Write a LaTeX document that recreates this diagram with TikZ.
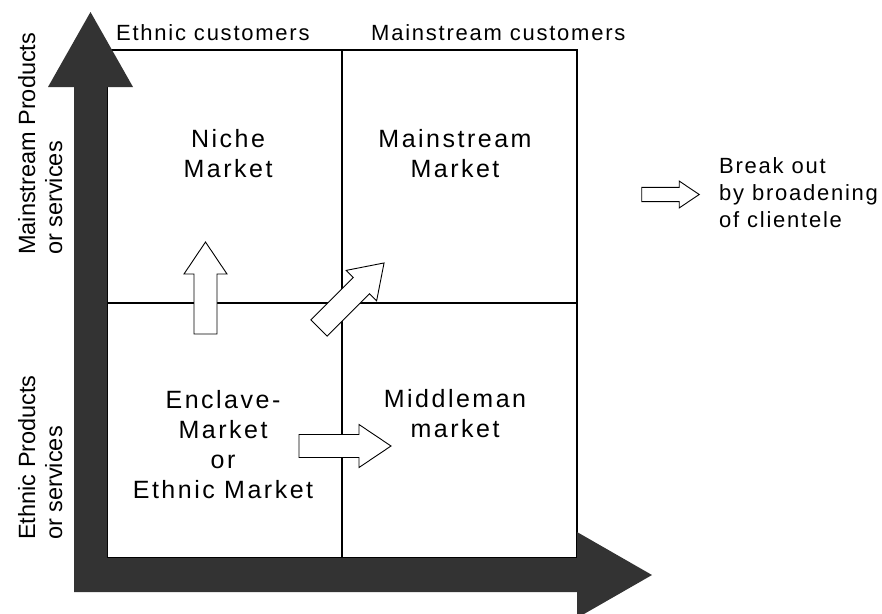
\documentclass[tikz,border=0pt]{standalone}
\usepackage{fontspec}
\setmainfont{Liberation Sans}
\newfontfamily\bigfont[LetterSpace=10]{Liberation Sans}
\newfontfamily\smallfont[LetterSpace=8]{Liberation Sans}
\definecolor{axisgray}{RGB}{51,51,51}
\tikzset{
  hollowarrow/.pic={\draw[arrowline] (0,-11.5) -- (60,-11.5) -- (60,-21.5) -- (92,0) -- (60,21.5) -- (60,11.5) -- (0,11.5) -- cycle;}
}
\begin{document}
\begin{tikzpicture}[x=1pt,y=-1pt,
  gridline/.style={line width=1.3pt, draw=black},
  arrowline/.style={draw=black, fill=white, line width=0.9pt, line join=miter},
  biglab/.style={font=\bigfont\fontsize{25}{30}\selectfont, align=center, inner sep=0pt, anchor=base},
  smalllab/.style={font=\smallfont\fontsize{22}{27}\selectfont, inner sep=0pt},
  sidelab/.style={font=\fontsize{23.5}{27}\selectfont, align=left, inner sep=0pt, rotate=90, anchor=base west}
]
\clip (0,0) rectangle (882,613);
% grid
\coordinate (tl) at (107,50);
\coordinate (br) at (577,558);
\coordinate (mt) at (342,50);
\coordinate (mb) at (342,558);
\coordinate (ml) at (107,303);
\coordinate (mr) at (577,303);
\draw[gridline] (tl) rectangle (br);
\draw[gridline] (mt) -- (mb);
\draw[gridline] (ml) -- (mr);
% hollow arrows
\pic[rotate=90] (up) at (205.5,334) {hollowarrow};
\pic[rotate=45] (diag) at (319,328) {hollowarrow};
\pic (right) at (299,446) {hollowarrow};
\pic[scale=0.625] (legend) at (641.7,194.5) {hollowarrow};
% axes
\fill[axisgray] (74,592) -- (74,87) -- (48,87) -- (90.5,12) -- (133,87) -- (107,87)
  -- (107,558) -- (577,558) -- (577,532) -- (652,575) -- (577,618) -- (577,592) -- cycle;
% labels (base anchor = baseline of the last line)
\node[smalllab, anchor=base west] (ethc) at (116,40) {Ethnic customers};
\node[smalllab, anchor=base west] (mainc) at (371,40) {Mainstream customers};
\node[biglab] (niche) at (228,177) {Niche\\Market};
\node[biglab] (mainm) at (455,177) {Mainstream\\Market};
\node[biglab] (encl) at (223,498) {Enclave-\\Market\\or\\Ethnic Market};
\node[biglab] (midm) at (455,437) {Middleman\\market};
\node[smalllab, align=left, anchor=base west] (brk) at (719,227) {Break out\\by broadening\\of clientele};
\node[sidelab] (mps) at (62,255) {Mainstream Products\\or services};
\node[sidelab] (eps) at (62,540) {Ethnic Products\\or services};
\end{tikzpicture}
\end{document}
